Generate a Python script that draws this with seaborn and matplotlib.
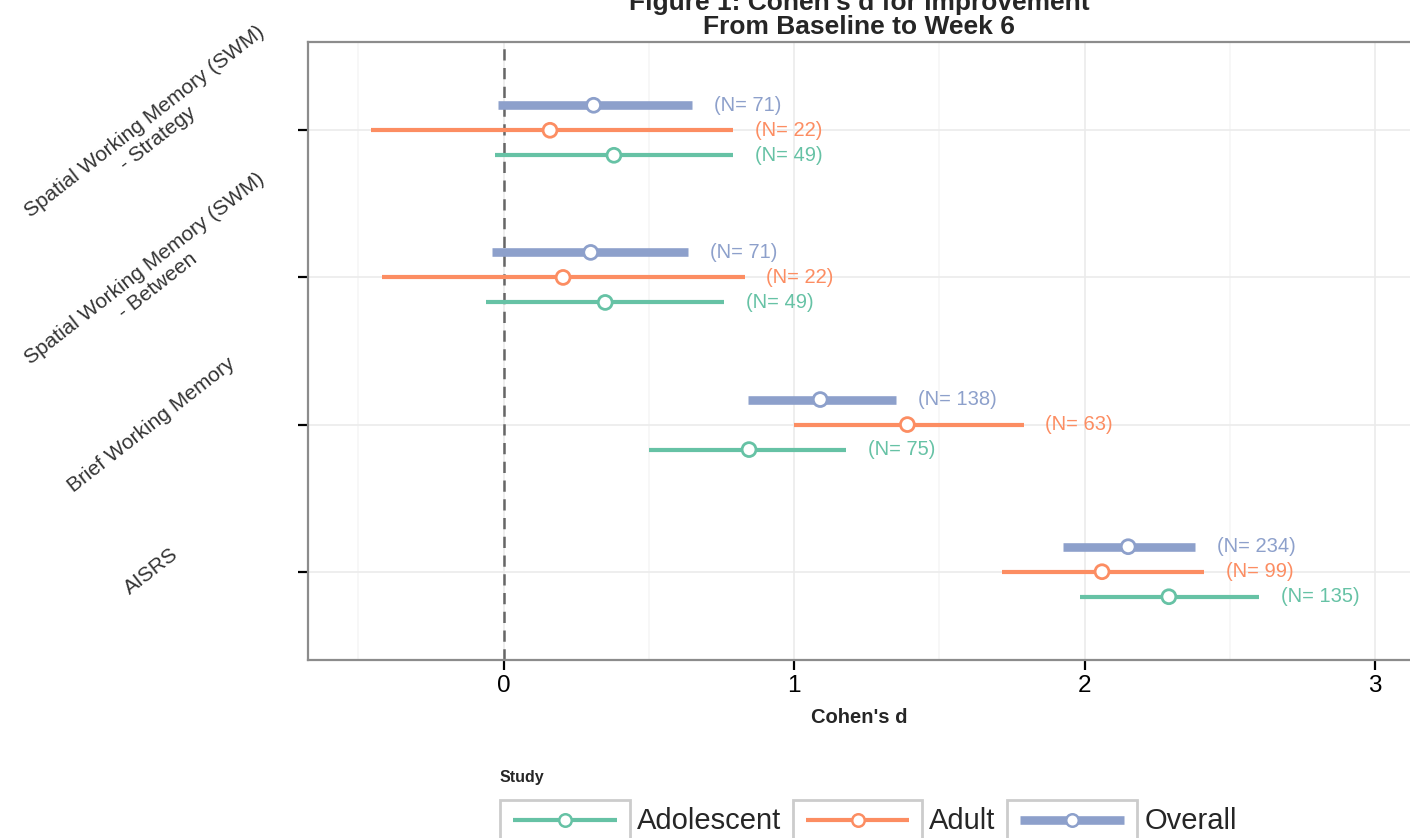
import numpy as np
import pandas as pd
import matplotlib
matplotlib.use("Agg")
import matplotlib.pyplot as plt
import seaborn as sns
from matplotlib.legend_handler import HandlerBase
from matplotlib.patches import Rectangle
from matplotlib.lines import Line2D

# ---------------- data ----------------
measures = ["Spatial Working Memory (SWM)\n- Strategy",
            "Spatial Working Memory (SWM)\n- Between",
            "Brief Working Memory",
            "AISRS"]
studies = ["Adolescent", "Adult", "Overall"]

d_adolescent = [0.38, 0.35, 0.845, 2.29]
lo_adolescent = [-0.03, -0.06, 0.50, 1.985]
hi_adolescent = [0.79, 0.76, 1.18, 2.60]
n_adolescent = [49, 49, 75, 135]

d_adult = [0.16, 0.205, 1.39, 2.06]
lo_adult = [-0.455, -0.42, 1.00, 1.715]
hi_adult = [0.79, 0.83, 1.79, 2.41]
n_adult = [22, 22, 63, 99]

d_overall = [0.31, 0.30, 1.09, 2.15]
lo_overall = [-0.02, -0.04, 0.84, 1.925]
hi_overall = [0.65, 0.635, 1.35, 2.38]
n_overall = [71, 71, 138, 234]

x_ticks = [0, 1, 2, 3]

# ---------------- styling ----------------
palette = {"Adolescent": "#66C2A5", "Adult": "#FC8D62", "Overall": "#8DA0CB"}
line_w = {"Adolescent": 3.0, "Adult": 3.0, "Overall": 6.2}
offsets = {"Adolescent": -0.17, "Adult": 0.0, "Overall": 0.17}

sns.set_theme(style="white")
plt.rcParams["font.family"] = ["Liberation Sans", "DejaVu Sans"]

rows = []
series = {"Adolescent": (d_adolescent, lo_adolescent, hi_adolescent, n_adolescent),
          "Adult": (d_adult, lo_adult, hi_adult, n_adult),
          "Overall": (d_overall, lo_overall, hi_overall, n_overall)}
nm = len(measures)
for st in studies:
    d, lo, hi, n = series[st]
    for i, m in enumerate(measures):
        rows.append(dict(measure=m, study=st, d=d[i], lo=lo[i], hi=hi[i], n=n[i],
                         ypos=(nm - i) + offsets[st]))
df = pd.DataFrame(rows)

fig = plt.figure(figsize=(14.1, 8.38), dpi=100)
ax = fig.add_axes([308 / 1410, 1 - 660 / 838, 1 - 308 / 1410, (660 - 42) / 838])
ax.set_facecolor("white")

# grid
ax.set_xlim(-0.673, 3.12)
ax.set_ylim(0.4, 4.6)
ax.set_xticks(x_ticks)
ax.set_xticks([-0.5, 0.5, 1.5, 2.5], minor=True)
ax.set_yticks(np.arange(nm, 0, -1))
ax.grid(True, which="major", color="#ebebeb", lw=1.2, zorder=0)
ax.grid(True, which="minor", axis="x", color="#f6f6f6", lw=1.2, zorder=0)
ax.set_axisbelow(True)

ax.axvline(0, color="#666666", lw=1.8, ls=(0, (4.5, 3.0)), zorder=1)

# intervals
for st in studies:
    sub = df[df.study == st]
    ax.hlines(sub.ypos, sub.lo, sub.hi, colors=palette[st], lw=line_w[st], zorder=3)
    for _, r in sub.iterrows():
        ax.text(r.hi + 0.075, r.ypos, f"(N= {r.n})", color=palette[st],
                fontsize=14.5, ha="left", va="center", zorder=6)

# points
sns.scatterplot(data=df, x="d", y="ypos", hue="study", palette=palette,
                hue_order=studies, s=100, linewidth=2, legend=False, zorder=5, ax=ax)
coll = ax.collections[-1]
fc = coll.get_facecolors().copy()
coll.set_edgecolors(fc)
coll.set_facecolors("white")

# axes
for s in ["left", "bottom", "top"]:
    ax.spines[s].set_color("#8c8c8c")
    ax.spines[s].set_linewidth(1.6)
ax.spines["right"].set_visible(False)

ax.set_xticklabels([str(t) for t in x_ticks])
ax.set_yticklabels(measures, rotation=38, ha="center", va="center",
                   rotation_mode="anchor", multialignment="center",
                   color="#333333", fontsize=15)
ax.tick_params(axis="x", which="major", length=7, width=1.6, color="black",
               labelsize=17.5, labelcolor="black", pad=4, bottom=True)
ax.tick_params(axis="x", which="minor", length=0)
ax.tick_params(axis="y", length=7, width=1.6, color="black", pad=106, left=True)
ax.set_xlabel("Cohen's d", fontsize=14.5, fontweight="bold", labelpad=8)
ax.set_ylabel("")
ax.set_title("Figure 1: Cohen's d for Improvement\nFrom Baseline to Week 6",
             fontsize=19, fontweight="bold", pad=6, linespacing=1.0)


# legend with boxed keys
class BoxedKey(HandlerBase):
    def __init__(self, color, lw):
        super().__init__()
        self.color = color
        self.lw = lw

    def create_artists(self, legend, orig_handle, xdescent, ydescent, width, height,
                       fontsize, trans):
        x0, y0 = -xdescent, -ydescent
        rect = Rectangle((x0, y0), width, height, facecolor="white",
                         edgecolor="#cccccc", lw=2, transform=trans)
        yc = y0 + height / 2
        ln = Line2D([x0 + 0.1 * width, x0 + 0.9 * width], [yc, yc], color=self.color,
                    lw=self.lw, transform=trans, solid_capstyle="butt")
        mk = Line2D([x0 + width / 2], [yc], marker="o", ms=9, mfc="white",
                    mec=self.color, mew=1.8, transform=trans, ls="none")
        return [rect, ln, mk]


handles = [Line2D([], [], color=palette[s]) for s in studies]
hmap = {h: BoxedKey(palette[s], line_w[s]) for h, s in zip(handles, studies)}
leg = fig.legend(handles, studies, handler_map=hmap, loc="upper left",
                 bbox_to_anchor=(497 / 1410, 1 - 767 / 838), ncol=3, frameon=False,
                 fontsize=21, title="Study", title_fontproperties={"weight": "bold", "size": 11.5},
                 handlelength=4.45, handleheight=1.75, handletextpad=0.24,
                 columnspacing=0.4, borderpad=0.1, borderaxespad=0)
leg._legend_box.align = "left"

fig.savefig("out.png", dpi=100)
